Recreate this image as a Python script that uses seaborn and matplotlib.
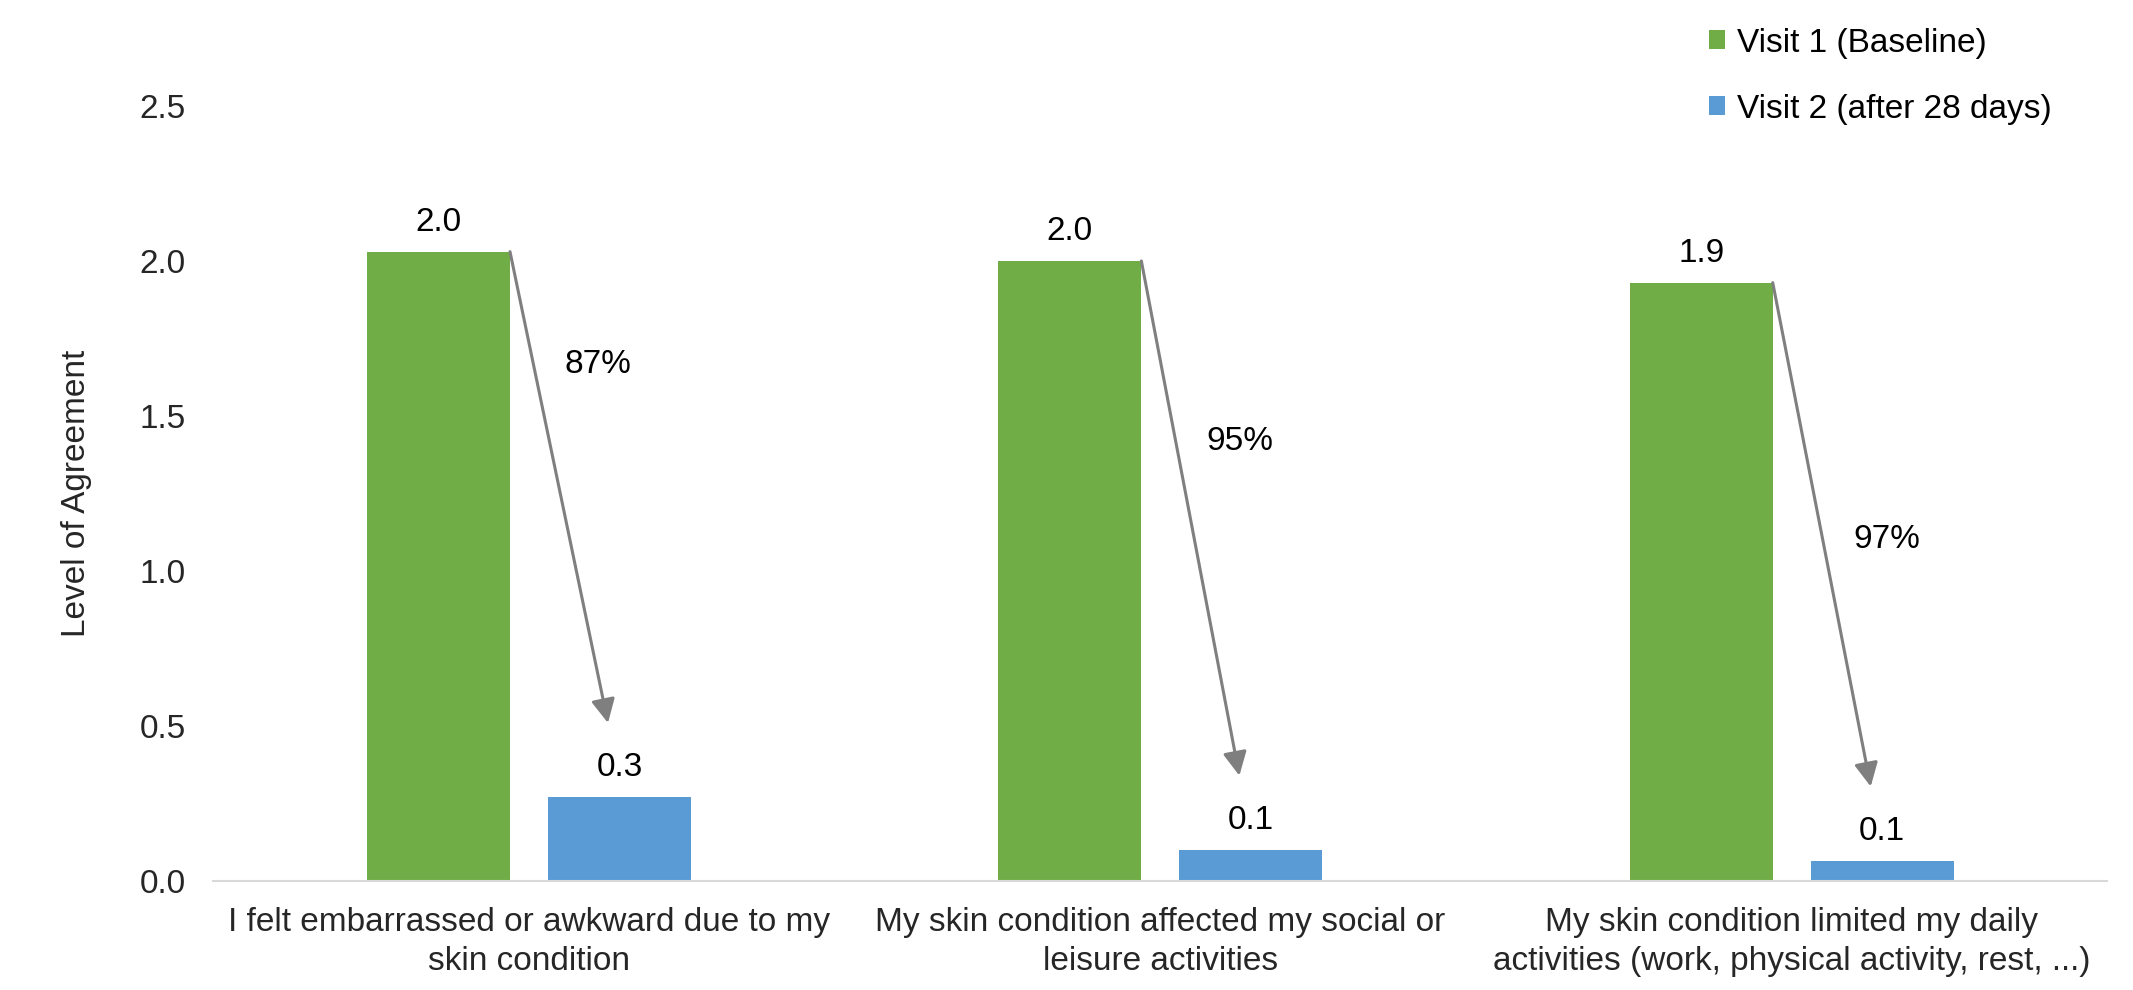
import pandas as pd
import matplotlib.pyplot as plt
import seaborn as sns
import numpy as np

# valores
categories = ['I felt embarrassed or awkward due to my\nskin condition',
              'My skin condition affected my social or\nleisure activities',
              'My skin condition limited my daily\nactivities (work, physical activity, rest, ...)']
visit1 = [2.03, 2.00, 1.93]
visit2 = [0.27, 0.10, 0.065]
visit1_labels = ['2.0', '2.0', '1.9']
visit2_labels = ['0.3', '0.1', '0.1']
reductions = ['87%', '95%', '97%']
series_names = ['Visit 1 (Baseline)', 'Visit 2 (after 28 days)']

df = pd.DataFrame({
    'category': categories * 2,
    'visit': [series_names[0]] * 3 + [series_names[1]] * 3,
    'value': visit1 + visit2,
})

sns.set_theme(style='white')
plt.rcParams['font.family'] = ['Liberation Sans', 'DejaVu Sans']
plt.rcParams['text.color'] = '#000000'

fig = plt.figure(figsize=(21.33, 9.9), dpi=100)
ax = fig.add_axes([0.100, 0.110, 0.888, 0.783])

sns.barplot(data=df, x='category', y='value', hue='visit', ax=ax,
            palette=['#70AD47', '#5B9BD5'], width=0.573, gap=0.21,
            saturation=1, edgecolor='none')

ax.bar_label(ax.containers[0], labels=visit1_labels, padding=10, fontsize=24)
ax.bar_label(ax.containers[1], labels=visit2_labels, padding=10, fontsize=24)

# setas de redução
label_frac = [0.24, 0.35, 0.51]
for i, (g, b) in enumerate(zip(ax.containers[0].patches, ax.containers[1].patches)):
    x0 = g.get_x() + g.get_width()
    y0 = g.get_height()
    x1 = b.get_x() + 0.42 * b.get_width()
    y1 = b.get_height() + 0.24
    ax.annotate('', xy=(x1, y1), xytext=(x0, y0),
                arrowprops=dict(arrowstyle='-|>', color='#7F7F7F', lw=2.2,
                                mutation_scale=36, shrinkA=0, shrinkB=0))
    ty = y0 - label_frac[i] * (y0 - y1)
    tx = x0 + (x1 - x0) * (y0 - ty) / (y0 - y1)
    ax.annotate(reductions[i], (tx, ty), xytext=(22, 0), textcoords='offset points',
                fontsize=24, ha='left', va='center')

ax.set_ylim(0, 2.5)
ax.set_yticks(np.arange(0, 2.51, 0.5))
ax.set_yticklabels([f'{v:.1f}' for v in np.arange(0, 2.51, 0.5)])
ax.set_xlim(-0.5, 2.5)
ax.set_xlabel('')
ax.set_ylabel('Level of Agreement', fontsize=24, labelpad=34)
ax.tick_params(axis='y', length=0, labelsize=24, pad=20)
ax.tick_params(axis='x', length=0, labelsize=24, pad=19)
for t in ax.get_xticklabels():
    t.set_linespacing(1.3)

for s in ['top', 'right', 'left']:
    ax.spines[s].set_visible(False)
ax.spines['bottom'].set_color('#D9D9D9')
ax.spines['bottom'].set_linewidth(1.5)

ax.legend(loc='upper left', bbox_to_anchor=(0.801, 0.972), bbox_transform=fig.transFigure,
          frameon=False, fontsize=24, handlelength=0.5, handleheight=0.5,
          handletextpad=0.35, labelspacing=1.05, borderpad=0, borderaxespad=0)

plt.savefig('out.png', dpi=100)
